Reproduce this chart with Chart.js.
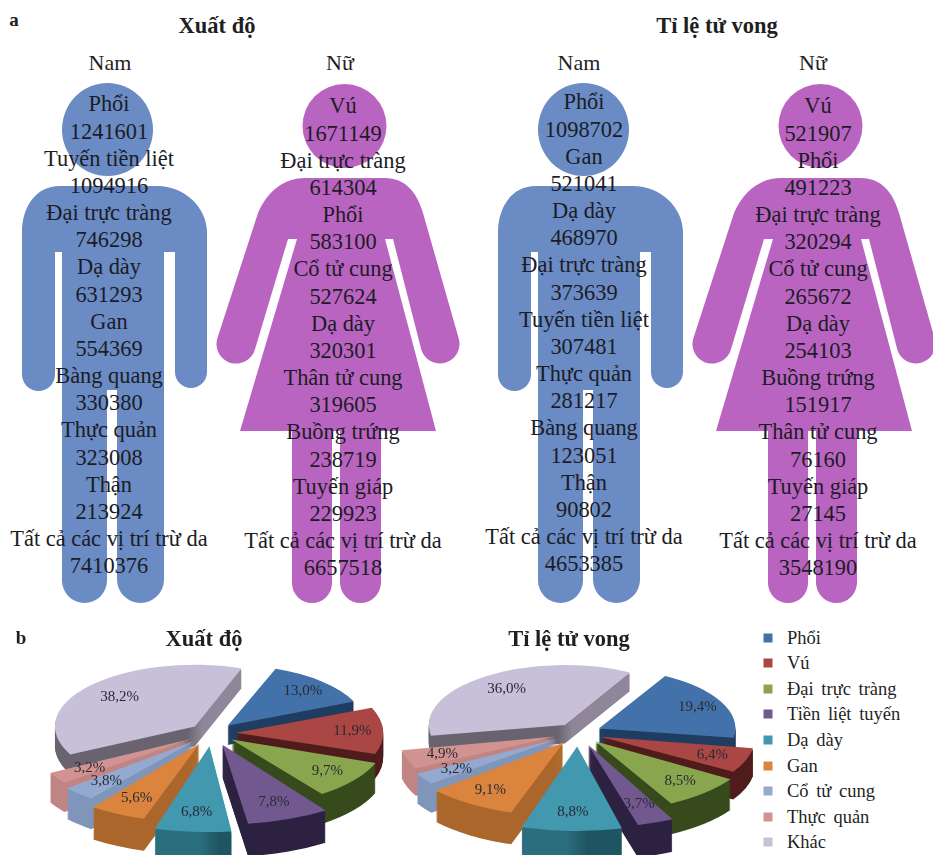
<!DOCTYPE html>
<html lang="vi">
<head>
<meta charset="utf-8">
<title>Xuất độ và tỉ lệ tử vong ung thư</title>
<script src="https://cdn.jsdelivr.net/npm/chart.js@4/dist/chart.umd.min.js"></script>
<style>
  html, body { margin: 0; padding: 0; background: #fff; overflow: hidden; }
  #page { position: relative; width: 933px; height: 855px; overflow: hidden;
          font-family: "Liberation Serif", serif; color: #1f1f1f; }
  #figures { position: absolute; left: 0; top: 0; }
  .t { position: absolute; white-space: nowrap; transform: translate(-50%, -50%); }
  .panel { font-weight: bold; font-size: 19px; }
  .title { font-weight: bold; font-size: 22.5px; }
  .head { font-size: 22px; }
  .stack { position: absolute; transform: translateX(-50%); text-align: center;
           font-size: 22.4px; line-height: 27.17px; white-space: nowrap; color: #1c1c26; }
  canvas.pie { position: absolute; }
  #legend { position: absolute; left: 0; top: 0; font-size: 18.5px; word-spacing: 3px; }
  #legend .sw { position: absolute; width: 9px; height: 9px; transform: translate(-50%, -50%); }
  #legend .lb { position: absolute; transform: translateY(-50%); white-space: nowrap; }
</style>
</head>
<body>
<div id="page">
  <svg id="figures" width="933" height="855" xmlns="http://www.w3.org/2000/svg">
    <defs>
      <g id="man" fill="#6a8bc3">
        <ellipse cx="107.5" cy="129.5" rx="45.5" ry="46.5"/>
        <path d="M60 186 H157 C185 186 207 208 207 232 V372 A16 16 0 0 1 175 372 V252 H164 V579.5 A23.5 23.5 0 0 1 117 579.5 V390 H107 V580.5 A22.5 22.5 0 0 1 62 580.5 V252 H55 V374.5 A16.5 16.5 0 0 1 22 374.5 V232 C22 208 35 186 60 186 Z"/>
      </g>
      <g id="woman" fill="#ba64c1">
        <circle cx="344.5" cy="126" r="42"/>
        <path d="M305 178 H385 C405 178 417 192 423 213 L458.8 338.8 A19.5 19.5 0 0 1 421.2 349.2 L393 239 H385 L436 431 H381 V582.5 A20.5 20.5 0 0 1 340 582.5 V431 H332 V583 A20 20 0 0 1 292 583 V431 H240 L297 239 H288 L255 349.2 A19.5 19.5 0 0 1 217.2 338.8 L258 213 C268 190 285 178 305 178 Z"/>
      </g>
    </defs>
    <use href="#man"/>
    <use href="#woman"/>
    <use href="#man" x="476"/>
    <use href="#woman" x="476"/>
  </svg>
  <canvas class="pie" id="pieIncidence" width="400" height="235" style="left:0;top:620px;width:400px;height:235px"></canvas>
  <canvas class="pie" id="pieMortality" width="360" height="235" style="left:400px;top:620px;width:360px;height:235px"></canvas>
  <div id="legend"></div>
</div>
<script>
// Leading cancer sites by sex (panel a)
const incidenceMaleSites = ["Phổi", "Tuyến tiền liệt", "Đại trực tràng", "Dạ dày", "Gan", "Bàng quang", "Thực quản", "Thận", "Tất cả các vị trí trừ da"];
const incidenceMaleCases = [1241601, 1094916, 746298, 631293, 554369, 330380, 323008, 213924, 7410376];
const incidenceFemaleSites = ["Vú", "Đại trực tràng", "Phổi", "Cổ tử cung", "Dạ dày", "Thân tử cung", "Buồng trứng", "Tuyến giáp", "Tất cả các vị trí trừ da"];
const incidenceFemaleCases = [1671149, 614304, 583100, 527624, 320301, 319605, 238719, 229923, 6657518];
const mortalityMaleSites = ["Phổi", "Gan", "Dạ dày", "Đại trực tràng", "Tuyến tiền liệt", "Thực quản", "Bàng quang", "Thận", "Tất cả các vị trí trừ da"];
const mortalityMaleDeaths = [1098702, 521041, 468970, 373639, 307481, 281217, 123051, 90802, 4653385];
const mortalityFemaleSites = ["Vú", "Phổi", "Đại trực tràng", "Cổ tử cung", "Dạ dày", "Buồng trứng", "Thân tử cung", "Tuyến giáp", "Tất cả các vị trí trừ da"];
const mortalityFemaleDeaths = [521907, 491223, 320294, 265672, 254103, 151917, 76160, 27145, 3548190];

// Share of all cancers by site, both sexes (panel b)
const pieCategories = ["Phổi", "Vú", "Đại trực tràng", "Tiền liệt tuyến", "Dạ dày", "Gan", "Cổ tử cung", "Thực quản", "Khác"];
const incidenceShares = [13.0, 11.9, 9.7, 7.8, 6.8, 5.6, 3.8, 3.2, 38.2];
const mortalityShares = [19.4, 6.4, 8.5, 3.7, 8.8, 9.1, 3.2, 4.9, 36.0];

// Slice top faces and the two shades of their side walls
const sliceColors = ["#4272a9", "#aa4643", "#89a54e", "#71588f", "#4198af", "#db843d", "#93a9cf", "#d19392", "#c8bfd8"];
const wallLeftColors = ["#234569", "#5a2120", "#3e5220", "#3c2c54", "#2b6e7e", "#ab672b", "#7f95ba", "#c08583", "#69636f"];
const wallRightColors = ["#1f3d60", "#4f1c1b", "#364a1c", "#2c2140", "#1f5562", "#b8702f", "#7288ad", "#b57b79", "#8f8799"];

const page = document.getElementById("page");

function addText(cls, text, x, y) {
  const el = document.createElement("div");
  el.className = "t " + cls;
  el.textContent = text;
  el.style.left = x + "px";
  el.style.top = y + "px";
  page.appendChild(el);
}

function addStack(sites, counts, centerX, firstLineY) {
  const el = document.createElement("div");
  el.className = "stack";
  el.style.left = centerX + "px";
  el.style.top = (firstLineY - 13.6) + "px";
  sites.forEach((site, i) => {
    const a = document.createElement("div");
    a.textContent = site;
    const b = document.createElement("div");
    b.textContent = String(counts[i]);
    el.append(a, b);
  });
  page.appendChild(el);
}

addText("panel", "a", 14, 20);
addText("panel", "b", 21, 638);
addText("title", "Xuất độ", 217, 26);
addText("title", "Tỉ lệ tử vong", 717, 26);
addText("title", "Xuất độ", 204, 639);
addText("title", "Tỉ lệ tử vong", 569, 639);
addText("head", "Nam", 110, 63);
addText("head", "Nữ", 340, 63);
addText("head", "Nam", 579, 63);
addText("head", "Nữ", 813, 63);

addStack(incidenceMaleSites, incidenceMaleCases, 109, 104);
addStack(incidenceFemaleSites, incidenceFemaleCases, 343, 106);
addStack(mortalityMaleSites, mortalityMaleDeaths, 584, 102);
addStack(mortalityFemaleSites, mortalityFemaleDeaths, 818, 106);

// Category key beside the second pie
const legend = document.getElementById("legend");
pieCategories.forEach((name, i) => {
  const y = 637.5 + i * 25.6;
  const sw = document.createElement("div");
  sw.className = "sw";
  sw.style.cssText = `left:768px;top:${y}px;background:${sliceColors[i]}`;
  const lb = document.createElement("div");
  lb.className = "lb";
  lb.style.cssText = `left:787px;top:${y}px`;
  lb.textContent = name;
  legend.append(sw, lb);
});

// Draws a doughnut-controller pie as tilted, extruded, exploded slices.
// Each slice is scaled by how near it sits to the viewer, which gives the
// receding look; every shape still comes from the library's arc elements.
const tiltedPie = {
  id: "tiltedPie",
  beforeDatasetDraw(chart, args, opts) {
    const ctx = chart.ctx;
    const arcs = args.meta.data.map((arc, index) => ({ arc, index, mid: (arc.startAngle + arc.endAngle) / 2 }));
    const scale = opts.radius / arcs[0].arc.outerRadius;
    const nearness = item => Math.sin(item.mid);
    const grow = item => {
      const c = nearness(item);
      return c > 0 ? 1 + opts.nearGrowth * Math.pow(c, 5) : 1 + opts.farGrowth * c;
    };
    const place = (item, drop) => {
      const s = scale * grow(item);
      ctx.translate(opts.centerX, opts.centerY + drop);
      ctx.scale(s, s * opts.tilt);
      ctx.translate(-item.arc.x, -item.arc.y);
    };
    arcs.slice().sort((a, b) => nearness(a) - nearness(b)).forEach(item => {
      const arc = item.arc;
      const own = arc.options;
      const depth = opts.depth * (1 + opts.depthGrowth * nearness(item));
      for (let drop = depth; drop >= 1; drop -= 1) {
        ctx.save();
        place(item, drop);
        const wall = ctx.createLinearGradient(arc.x - 5, 0, arc.x + 5, 0);
        wall.addColorStop(0, wallLeftColors[item.index]);
        wall.addColorStop(1, wallRightColors[item.index]);
        arc.options = Object.assign({}, own, { backgroundColor: wall });
        arc.draw(ctx);
        arc.options = own;
        ctx.restore();
      }
      ctx.save();
      place(item, 0);
      arc.draw(ctx);
      ctx.restore();
    });
    // Value labels go on last so no wall covers them
    ctx.save();
    ctx.font = "15px 'Liberation Serif', serif";
    ctx.fillStyle = "#2a2a33";
    ctx.textAlign = "center";
    ctx.textBaseline = "middle";
    const values = chart.data.datasets[args.index].data;
    arcs.forEach(item => {
      const arc = item.arc;
      const s = scale * grow(item);
      const value = values[item.index];
      const fraction = opts.labelReach - opts.labelShrink * value / 100;
      const reach = (arc.options.offset || 0) / 4 + arc.outerRadius * fraction;
      const x = opts.centerX + Math.cos(item.mid) * reach * s;
      const y = opts.centerY + Math.sin(item.mid) * reach * s * opts.tilt;
      ctx.fillText(value.toFixed(1).replace(".", ",") + "%", x, y);
    });
    ctx.restore();
    return false;
  }
};

function makePie(canvasId, shares, rotation, centerX, centerY) {
  return new Chart(document.getElementById(canvasId), {
    type: "pie",
    data: {
      labels: pieCategories,
      datasets: [{ data: shares, backgroundColor: sliceColors, borderWidth: 0, offset: 60 }]
    },
    options: {
      responsive: false,
      animation: false,
      rotation,
      plugins: {
        legend: { display: false },
        tooltip: { enabled: false },
        title: { display: false },
        tiltedPie: { centerX, centerY, radius: 140, tilt: 0.44, nearGrowth: 0.27, farGrowth: 0.08, depth: 25, depthGrowth: 0.32, labelReach: 0.87, labelShrink: 0.3 }
      }
    },
    plugins: [tiltedPie]
  });
}

makePie("pieIncidence", incidenceShares, 20, 212, 113);
makePie("pieMortality", mortalityShares, 29, 578 - 400, 113);
</script>
</body>
</html>
